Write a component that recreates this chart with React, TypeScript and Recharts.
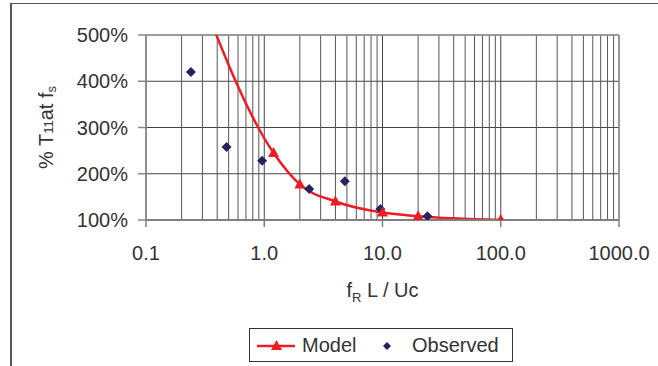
import React from "react";
import {
  ComposedChart,
  Line,
  Scatter,
  XAxis,
  YAxis,
  CartesianGrid,
  ReferenceLine,
  Legend,
  Label,
} from "recharts";

// ---- data ----
const modelX = [0.24, 1.2, 2, 4, 10, 20, 100];
const modelY = [640, 245, 177, 140, 116, 108, 100];
const observedX = [0.24, 0.48, 0.96, 2.4, 4.8, 9.6, 24];
const observedY = [420, 258, 228, 167, 184, 124, 108];
const xTicks = [0.1, 1, 10, 100, 1000];
const yTicks = [100, 200, 300, 400, 500];
const minorX = [
  0.2, 0.3, 0.4, 0.5, 0.6, 0.7, 0.8, 0.9,
  2, 3, 4, 5, 6, 7, 8, 9,
  20, 30, 40, 50, 60, 70, 80, 90,
  200, 300, 400, 500, 600, 700, 800, 900,
];

const modelData = modelX.map((x, i) => ({ x, model: modelY[i] }));
const observedData = observedX.map((x, i) => ({ x, observed: observedY[i] }));

const FONT = "'Liberation Sans', Arial, sans-serif";
const RED = "#EE1C24";
const NAVY = "#25255E";
const TEXT = "#333333";

const Triangle = (props: any) => {
  const { cx, cy } = props;
  if (cx == null || cy == null) return null;
  return (
    <polygon
      points={`${cx},${cy - 6} ${cx + 5.5},${cy + 4} ${cx - 5.5},${cy + 4}`}
      fill={RED}
    />
  );
};

const Diamond = (props: any) => {
  const { cx, cy } = props;
  if (cx == null || cy == null) return null;
  return (
    <polygon
      points={`${cx},${cy - 5} ${cx + 5},${cy} ${cx},${cy + 5} ${cx - 5},${cy}`}
      fill={NAVY}
    />
  );
};

const LegendBox = () => (
  <div
    style={{
      position: "relative",
      width: 264,
      height: 34,
      boxSizing: "border-box",
      border: "1px solid #333",
      background: "#fff",
    }}
  >
    <svg width={264} height={34} style={{ position: "absolute", left: -1, top: -1 }}>
      <line x1={8} y1={18} x2={46} y2={18} stroke={RED} strokeWidth={2.5} />
      <polygon points="27.5,12 33,22 22,22" fill={RED} />
      <text x={53} y={23.5} fontFamily={FONT} fontSize={20} fill={TEXT}>
        Model
      </text>
      <polygon points="138,14 142,18 138,22 134,18" fill={NAVY} />
      <text x={163} y={23.5} fontFamily={FONT} fontSize={20} fill={TEXT}>
        Observed
      </text>
    </svg>
  </div>
);

const YTitle = (props: any) => {
  const vb = props.viewBox || {};
  const cx = vb.x - 23;
  const cy = vb.y + vb.height / 2;
  return (
    <text
      x={cx}
      y={cy}
      transform={`rotate(-90, ${cx}, ${cy})`}
      textAnchor="middle"
      fontFamily={FONT}
      fontSize={20}
      fill={TEXT}
    >
      <tspan>% T</tspan>
      <tspan fontSize={13} dy={0}>11</tspan>
      <tspan fontSize={20} dy={0}>at f</tspan>
      <tspan fontSize={13} dy={3}>s</tspan>
    </text>
  );
};

const XTitle = (props: any) => {
  const vb = props.viewBox || {};
  const cx = vb.x + vb.width / 2;
  const cy = vb.y + 77;
  return (
    <text x={cx} y={cy} textAnchor="middle" fontFamily={FONT} fontSize={20} fill={TEXT}>
      <tspan>f</tspan>
      <tspan fontSize={13} dy={5}>R</tspan>
      <tspan fontSize={20} dy={-5}> L / Uc</tspan>
    </text>
  );
};

export default function App() {
  return (
    <div
      style={{
        position: "absolute",
        left: 0,
        top: 0,
        width: 658,
        height: 366,
        overflow: "hidden",
        background: "#fff",
      }}
    >
      <div
        style={{
          position: "absolute",
          left: 10,
          top: 3,
          width: 700,
          height: 400,
          borderTop: "1.5px solid #555",
          borderLeft: "2px solid #555",
        }}
      />
      <div style={{ position: "absolute", left: 0, top: 0 }}>
        <ComposedChart
          width={658}
          height={366}
          margin={{ top: 35, right: 39, bottom: 72, left: 76 }}
        >
          <CartesianGrid stroke="#444" strokeWidth={1} />
          {minorX.map((v) => (
            <ReferenceLine key={v} x={v} stroke="#555" strokeWidth={1} />
          ))}
          <ReferenceLine y={500} stroke="#999" strokeWidth={1.5} />
          <ReferenceLine x={1000} stroke="#999" strokeWidth={1.5} />
          <XAxis
            type="number"
            dataKey="x"
            scale="log"
            domain={[0.1, 1000]}
            ticks={xTicks}
            interval={0}
            allowDataOverflow
            tickFormatter={(v: number) => v.toFixed(1)}
            height={40}
            tickSize={7}
            tickMargin={19}
            axisLine={{ stroke: "#808080", strokeWidth: 2 }}
            tickLine={{ stroke: "#808080", strokeWidth: 1.5 }}
            tick={{ fontFamily: FONT, fontSize: 20, fill: TEXT }}
          >
            <Label content={<XTitle />} />
          </XAxis>
          <YAxis
            type="number"
            domain={[100, 500]}
            ticks={yTicks}
            interval={0}
            allowDataOverflow
            tickFormatter={(v: number) => `${v}%`}
            width={70}
            tickSize={8}
            tickMargin={10}
            axisLine={{ stroke: "#888", strokeWidth: 1.5 }}
            tickLine={{ stroke: "#888", strokeWidth: 1.5 }}
            tick={{ fontFamily: FONT, fontSize: 20, fill: TEXT }}
          >
            <Label content={<YTitle />} />
          </YAxis>
          <Line
            data={modelData}
            dataKey="model"
            name="Model"
            type="monotone"
            stroke={RED}
            strokeWidth={2.5}
            dot={<Triangle />}
            activeDot={false}
            isAnimationActive={false}
          />
          <Scatter
            data={observedData}
            dataKey="observed"
            name="Observed"
            fill={NAVY}
            shape={<Diamond />}
            isAnimationActive={false}
          />
          <Legend
            content={<LegendBox />}
            wrapperStyle={{ position: "absolute", left: 249, top: 328, width: 264, height: 34 }}
          />
        </ComposedChart>
      </div>
    </div>
  );
}
